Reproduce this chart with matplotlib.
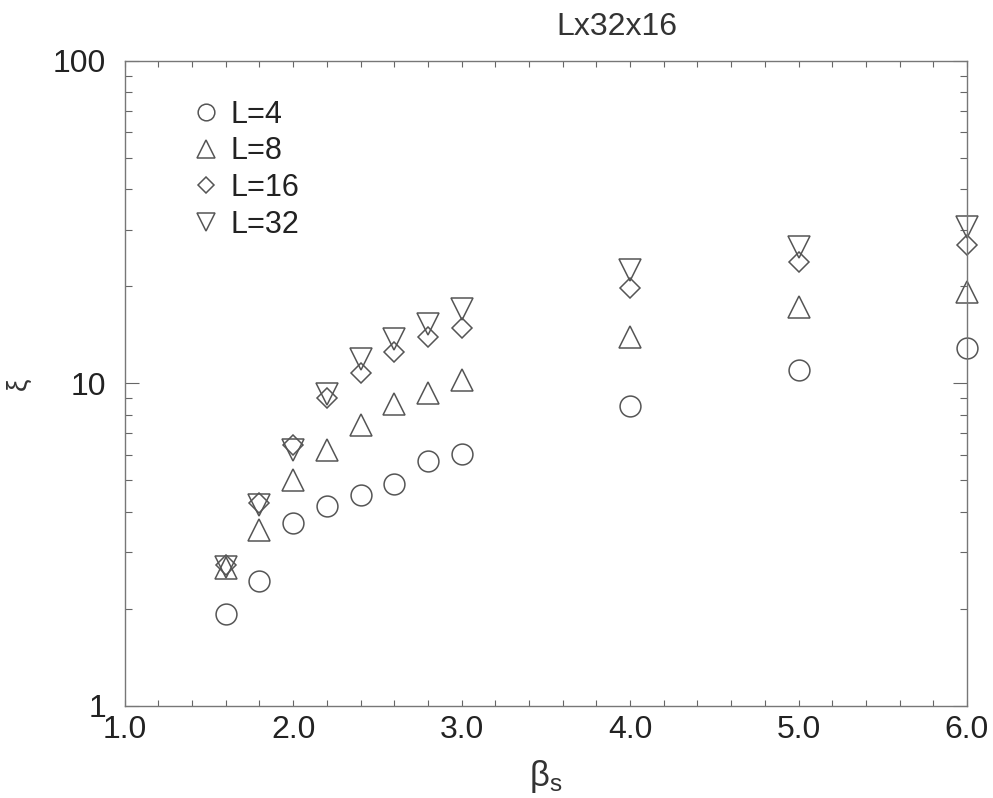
import matplotlib
matplotlib.use("Agg")
import matplotlib.pyplot as plt
from matplotlib.ticker import FixedLocator, MultipleLocator, LogLocator, NullFormatter, FixedFormatter

plt.rcParams['font.family'] = ['Liberation Sans', 'DejaVu Sans']
plt.rcParams['mathtext.fontset'] = 'custom'
plt.rcParams['mathtext.rm'] = 'Liberation Sans'
plt.rcParams['mathtext.it'] = 'Liberation Sans'

beta = [1.6, 1.8, 2.0, 2.2, 2.4, 2.6, 2.8, 3.0, 4.0, 5.0, 6.0]
xi_L4 = [1.93, 2.43, 3.68, 4.17, 4.51, 4.86, 5.74, 6.04, 8.53, 11.0, 12.9]
xi_L8 = [2.67, 3.51, 5.01, 6.22, 7.44, 8.65, 9.32, 10.25, 13.9, 17.3, 19.2]
xi_L16 = [2.73, 4.25, 6.44, 8.99, 10.75, 12.54, 13.9, 14.8, 19.7, 23.8, 26.9]
xi_L32 = [2.70, 4.20, 6.22, 9.27, 11.9, 13.76, 15.3, 17.0, 22.4, 26.4, 30.5]

labels = ['L=4', 'L=8', 'L=16', 'L=32']
xticks = [1.0, 2.0, 3.0, 4.0, 5.0, 6.0]
xticklabels = ['1.0', '2.0', '3.0', '4.0', '5.0', '6.0']
yticks = [1, 10, 100]
yticklabels = ['1', '10', '100']

col = '#555555'
fig = plt.figure(figsize=(9.93, 7.98), dpi=100)
ax = fig.add_axes([0.1256, 0.1157, 0.8482, 0.8079])

series = [(xi_L4, 'o', 15), (xi_L8, '^', 15.5), (xi_L16, 'D', 10.2), (xi_L32, 'v', 15.5)]
for (vals, m, ms), lab in zip(series, labels):
    ax.plot(beta, vals, linestyle='none', marker=m, markersize=ms,
            markerfacecolor='none', markeredgecolor=col, markeredgewidth=1.1,
            label=lab, clip_on=False)

ax.set_yscale('log')
ax.set_xlim(1.0, 6.0)
ax.set_ylim(1, 100)
ax.xaxis.set_major_locator(FixedLocator(xticks))
ax.xaxis.set_major_formatter(FixedFormatter(xticklabels))
ax.xaxis.set_minor_locator(MultipleLocator(0.2))
ax.yaxis.set_major_locator(FixedLocator(yticks))
ax.yaxis.set_major_formatter(FixedFormatter(yticklabels))
ax.yaxis.set_minor_locator(LogLocator(base=10, subs=range(2, 10)))
ax.yaxis.set_minor_formatter(NullFormatter())

ax.tick_params(which='both', direction='in', top=True, right=True, colors='#666666',
               labelcolor='#222222', labelsize=23)
ax.tick_params(axis='x', which='major', length=4, width=0.8, pad=7)
ax.tick_params(axis='x', which='minor', length=4, width=0.8)
ax.tick_params(axis='y', which='major', length=10, width=0.8, pad=13.5)
ax.tick_params(axis='y', which='minor', length=5, width=0.8)
for s in ax.spines.values():
    s.set_color('#777777')
    s.set_linewidth(1.0)

ax.set_xlabel(r'$\mathregular{\beta_s}$', fontsize=25, color='#333333', labelpad=9)
ax.set_ylabel('ξ', fontsize=20, color='#333333', labelpad=15)
ax.set_title('Lx32x16', fontsize=23, color='#333333', pad=19, x=0.584)

leg = ax.legend(loc='upper left', bbox_to_anchor=(0.084, 0.94), frameon=False,
                fontsize=22, markerscale=0.8, handlelength=0.7, handletextpad=0.45,
                labelspacing=0.22, borderaxespad=0, borderpad=0)
for t in leg.get_texts():
    t.set_color('#222222')

fig.savefig('out.png', dpi=100)
